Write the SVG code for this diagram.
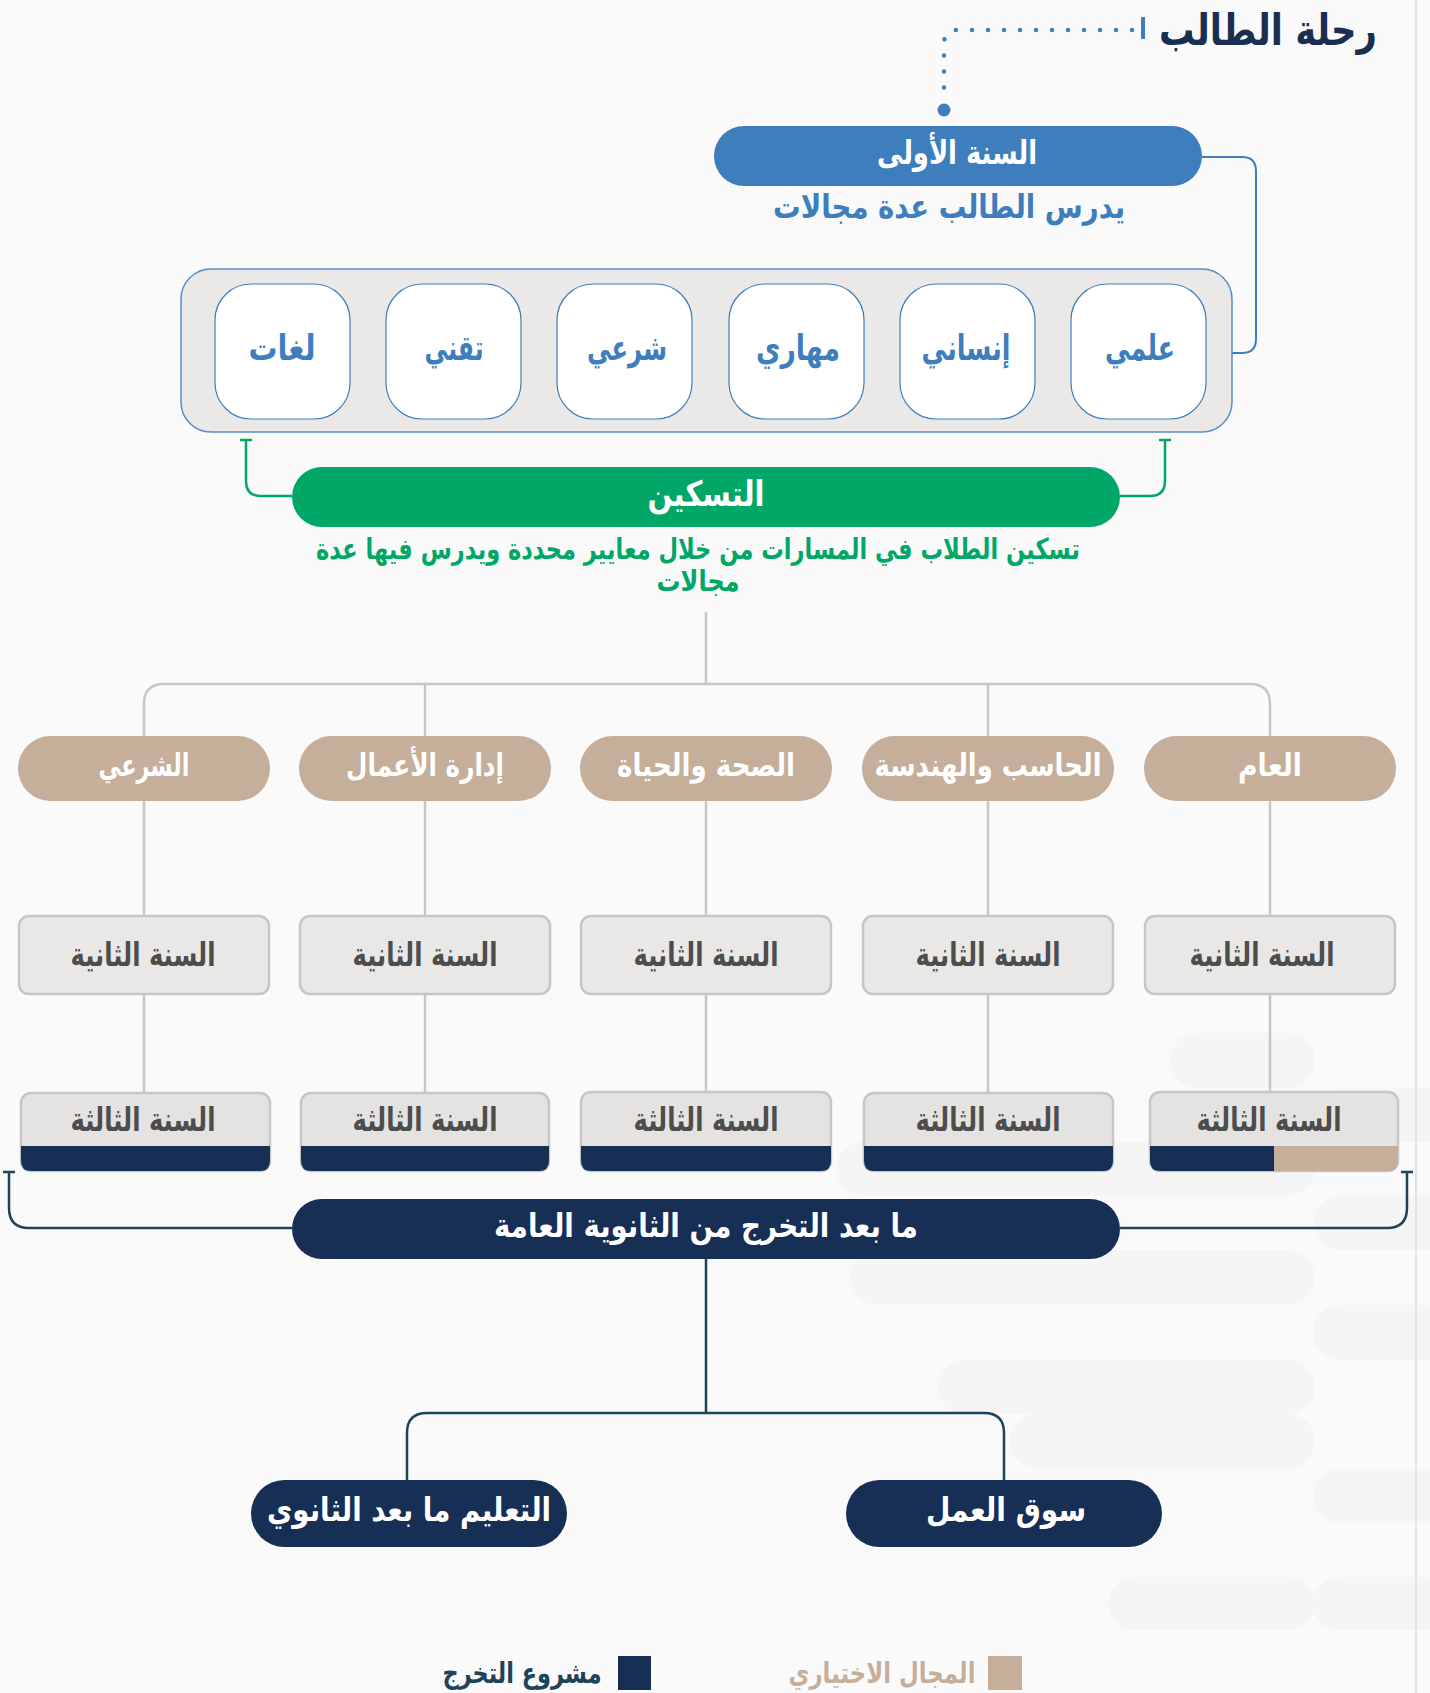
<svg xmlns="http://www.w3.org/2000/svg" width="1430" height="1693" viewBox="0 0 1430 1693">
<style>
text{font-family:"DejaVu Sans","Noto Sans",sans-serif;font-weight:bold;text-anchor:middle}
.w{fill:#ffffff}
.blue{fill:#3e7ebc}
.card{fill:#ffffff;stroke:#3e7ebc;stroke-width:1.2}
.tan{fill:#c5af9b}
.navy{fill:#172e55}
.y2{fill:#e9e8e6;stroke:#c6c6c6;stroke-width:2.5}
.y3{fill:#e4e3e1;stroke:#c6c6c6;stroke-width:2.5}
.gt{fill:#4d4d4d;font-size:33px}
.ct{font-size:35px;fill:#3e7ebc}
.tt{font-size:31px;fill:#ffffff}
.gl{fill:none;stroke:#c6c6c6;stroke-width:2.5}
.nl{fill:none;stroke:#1d4459;stroke-width:2.5}
.grl{fill:none;stroke:#00a766;stroke-width:2.5}
.bl{fill:none;stroke:#3e7ebc;stroke-width:2}
.bg{fill:#f5f5f5}
</style>
<rect x="0" y="0" width="1430" height="1693" fill="#fafafa"/>
<g id="background-pattern">
<rect class="bg" x="1170" y="1033" width="145" height="55" rx="27.5"/>
<rect class="bg" x="1313" y="1088" width="140" height="54" rx="27"/>
<rect class="bg" x="836" y="1142" width="479" height="54" rx="27"/>
<rect class="bg" x="1313" y="1196" width="140" height="54" rx="27"/>
<rect class="bg" x="850" y="1250" width="465" height="55" rx="27.5"/>
<rect class="bg" x="1313" y="1305" width="140" height="55" rx="27.5"/>
<rect class="bg" x="938" y="1360" width="377" height="54" rx="27"/>
<rect class="bg" x="1010" y="1414" width="305" height="55" rx="27.5"/>
<rect class="bg" x="1313" y="1469" width="140" height="54" rx="27"/>
<rect class="bg" x="1313" y="1577" width="140" height="53" rx="26.5"/>
<rect class="bg" x="1108" y="1577" width="207" height="53" rx="26.5"/>
</g>
<line x1="1416" y1="0" x2="1416" y2="1693" stroke="#e2e2e2" stroke-width="2"/>

<g id="connectors">
<path d="M1132,30 H958 Q944,30 944,44 V97" fill="none" stroke="#3e7ebc" stroke-width="4.5" stroke-linecap="round" stroke-dasharray="0 16"/>
<circle cx="944" cy="110" r="6.5" fill="#3e7ebc"/>
<path class="bl" d="M1202,157 H1242 Q1256,157 1256,171 V339 Q1256,353 1242,353 H1232"/>
<path class="grl" d="M246,440 V481 Q246,496 261,496 H292 M240,440 H252"/>
<path class="grl" d="M1165,440 V481 Q1165,496 1150,496 H1120 M1159,440 H1171"/>
<path class="gl" d="M706,612 V684 M144,736 V704 Q144,684 164,684 H1250 Q1270,684 1270,704 V736 M425,684 V736 M988,684 V736"/>
<path class="gl" d="M144,800 V1093 M425,800 V1093 M706,800 V1093 M988,800 V1093 M1270,800 V1093"/>
<path class="nl" d="M9,1172 V1208 Q9,1228 29,1228 H292 M3,1172 H15"/>
<path class="nl" d="M1407,1172 V1208 Q1407,1228 1387,1228 H1120 M1401,1172 H1413"/>
<path class="nl" d="M706,1259 V1413 M407,1480 V1433 Q407,1413 427,1413 H984 Q1004,1413 1004,1433 V1480"/>
</g>

<g id="title">
<rect x="1141" y="17" width="4" height="22" fill="#3e7ebc"/>
<text x="1268" y="45" font-size="43" fill="#1a2e52" textLength="218" lengthAdjust="spacingAndGlyphs">رحلة الطالب</text>
</g>

<g id="year1">
<rect x="714" y="126" width="488" height="60" rx="30" fill="#3e7ebc"/>
<text class="w" x="957" y="164" font-size="33" textLength="160" lengthAdjust="spacingAndGlyphs">السنة الأولى</text>
<text class="blue" x="949" y="218" font-size="33" textLength="352" lengthAdjust="spacingAndGlyphs">يدرس الطالب عدة مجالات</text>
</g>

<g id="fields">
<rect x="181" y="269" width="1051" height="163" rx="30" fill="#ebe9e7" stroke="#5b8ec9" stroke-width="1.5"/>
<g id="f-lughat"><rect class="card" x="215" y="284" width="135" height="135" rx="36"/><text class="ct" x="282" y="360" textLength="67" lengthAdjust="spacingAndGlyphs">لغات</text></g>
<g id="f-taqni"><rect class="card" x="386" y="284" width="135" height="135" rx="36"/><text class="ct" x="454" y="360" textLength="59" lengthAdjust="spacingAndGlyphs">تقني</text></g>
<g id="f-sharei"><rect class="card" x="557" y="284" width="135" height="135" rx="36"/><text class="ct" x="627" y="360" textLength="80" lengthAdjust="spacingAndGlyphs">شرعي</text></g>
<g id="f-mahari"><rect class="card" x="729" y="284" width="135" height="135" rx="36"/><text class="ct" x="798" y="360" textLength="84" lengthAdjust="spacingAndGlyphs">مهاري</text></g>
<g id="f-insani"><rect class="card" x="900" y="284" width="135" height="135" rx="36"/><text class="ct" x="966" y="360" textLength="89" lengthAdjust="spacingAndGlyphs">إنساني</text></g>
<g id="f-ilmi"><rect class="card" x="1071" y="284" width="135" height="135" rx="36"/><text class="ct" x="1140" y="360" textLength="70" lengthAdjust="spacingAndGlyphs">علمي</text></g>
</g>

<g id="tasgeen">
<rect x="292" y="467" width="828" height="60" rx="30" fill="#00a766"/>
<text class="w" x="706" y="506" font-size="35" textLength="117" lengthAdjust="spacingAndGlyphs">التسكين</text>
<text x="698" y="559" font-size="29" fill="#00a766" textLength="764" lengthAdjust="spacingAndGlyphs">تسكين الطلاب في المسارات من خلال معايير محددة ويدرس فيها عدة</text>
<text x="698" y="591" font-size="29" fill="#00a766" textLength="83" lengthAdjust="spacingAndGlyphs">مجالات</text>
</g>

<g id="track-sharei">
<rect class="tan" x="18" y="736" width="252" height="65" rx="32.5"/><text class="tt" x="144" y="776" textLength="91" lengthAdjust="spacingAndGlyphs">الشرعي</text>
</g>
<g id="track-idara">
<rect class="tan" x="299" y="736" width="252" height="65" rx="32.5"/><text class="tt" x="425" y="776" textLength="158" lengthAdjust="spacingAndGlyphs">إدارة الأعمال</text>
</g>
<g id="track-sehha">
<rect class="tan" x="580" y="736" width="252" height="65" rx="32.5"/><text class="tt" x="706" y="776" textLength="178" lengthAdjust="spacingAndGlyphs">الصحة والحياة</text>
</g>
<g id="track-hasib">
<rect class="tan" x="862" y="736" width="252" height="65" rx="32.5"/><text class="tt" x="988" y="776" textLength="227" lengthAdjust="spacingAndGlyphs">الحاسب والهندسة</text>
</g>
<g id="track-aam">
<rect class="tan" x="1144" y="736" width="252" height="65" rx="32.5"/><text class="tt" x="1270" y="776" textLength="64" lengthAdjust="spacingAndGlyphs">العام</text>
</g>

<g id="year2-1"><rect class="y2" x="19" y="916" width="250" height="78" rx="10"/><text class="gt" x="143" y="966" textLength="145" lengthAdjust="spacingAndGlyphs">السنة الثانية</text></g>
<g id="year2-2"><rect class="y2" x="300" y="916" width="250" height="78" rx="10"/><text class="gt" x="425" y="966" textLength="145" lengthAdjust="spacingAndGlyphs">السنة الثانية</text></g>
<g id="year2-3"><rect class="y2" x="581" y="916" width="250" height="78" rx="10"/><text class="gt" x="706" y="966" textLength="145" lengthAdjust="spacingAndGlyphs">السنة الثانية</text></g>
<g id="year2-4"><rect class="y2" x="863" y="916" width="250" height="78" rx="10"/><text class="gt" x="988" y="966" textLength="145" lengthAdjust="spacingAndGlyphs">السنة الثانية</text></g>
<g id="year2-5"><rect class="y2" x="1145" y="916" width="250" height="78" rx="10"/><text class="gt" x="1262" y="966" textLength="145" lengthAdjust="spacingAndGlyphs">السنة الثانية</text></g>

<g id="year3-1"><rect class="y3" x="21" y="1093" width="249" height="78" rx="10"/><path class="navy" d="M21,1146 H270 V1161 Q270,1171 260,1171 H31 Q21,1171 21,1161 Z"/><text class="gt" x="143" y="1131" textLength="145" lengthAdjust="spacingAndGlyphs">السنة الثالثة</text></g>
<g id="year3-2"><rect class="y3" x="301" y="1093" width="248" height="78" rx="10"/><path class="navy" d="M301,1146 H549 V1161 Q549,1171 539,1171 H311 Q301,1171 301,1161 Z"/><text class="gt" x="425" y="1131" textLength="145" lengthAdjust="spacingAndGlyphs">السنة الثالثة</text></g>
<g id="year3-3"><rect class="y3" x="581" y="1092" width="250" height="79" rx="10"/><path class="navy" d="M581,1146 H831 V1161 Q831,1171 821,1171 H591 Q581,1171 581,1161 Z"/><text class="gt" x="706" y="1131" textLength="145" lengthAdjust="spacingAndGlyphs">السنة الثالثة</text></g>
<g id="year3-4"><rect class="y3" x="864" y="1093" width="249" height="78" rx="10"/><path class="navy" d="M864,1146 H1113 V1161 Q1113,1171 1103,1171 H874 Q864,1171 864,1161 Z"/><text class="gt" x="988" y="1131" textLength="145" lengthAdjust="spacingAndGlyphs">السنة الثالثة</text></g>
<g id="year3-5"><rect class="y3" x="1150" y="1092" width="248" height="79" rx="10"/><path class="navy" d="M1150,1146 H1274 V1171 H1160 Q1150,1171 1150,1161 Z"/><path class="tan" d="M1274,1146 H1398 V1161 Q1398,1171 1388,1171 H1274 Z"/><text class="gt" x="1269" y="1131" textLength="145" lengthAdjust="spacingAndGlyphs">السنة الثالثة</text></g>

<g id="after-grad">
<rect class="navy" x="292" y="1199" width="828" height="60" rx="30"/>
<text class="w" x="706" y="1237" font-size="33" textLength="424" lengthAdjust="spacingAndGlyphs">ما بعد التخرج من الثانوية العامة</text>
</g>
<g id="higher-ed">
<rect class="navy" x="251" y="1480" width="316" height="67" rx="33.5"/>
<text class="w" x="409" y="1521" font-size="33" textLength="284" lengthAdjust="spacingAndGlyphs">التعليم ما بعد الثانوي</text>
</g>
<g id="job-market">
<rect class="navy" x="846" y="1480" width="316" height="67" rx="33.5"/>
<text class="w" x="1006" y="1521" font-size="33" textLength="160" lengthAdjust="spacingAndGlyphs">سوق العمل</text>
</g>

<g id="legend">
<rect class="navy" x="618" y="1656" width="33" height="34"/>
<text x="522" y="1683" font-size="29" fill="#1d4459" textLength="159" lengthAdjust="spacingAndGlyphs">مشروع التخرج</text>
<rect class="tan" x="988" y="1656" width="34" height="34"/>
<text x="882" y="1683" font-size="29" fill="#c5af9b" textLength="187" lengthAdjust="spacingAndGlyphs">المجال الاختياري</text>
</g>
</svg>
